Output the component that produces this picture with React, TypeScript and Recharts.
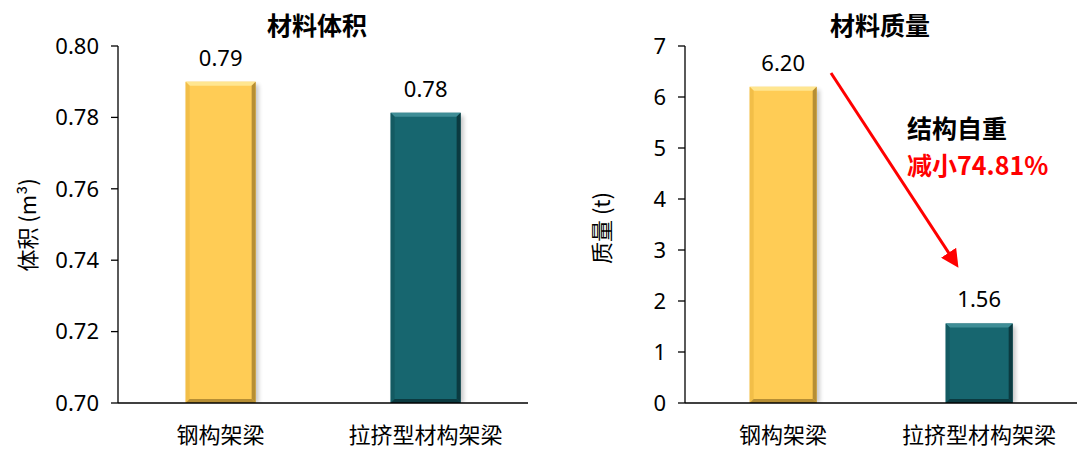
import React from 'react';
import { BarChart, Bar, XAxis, YAxis, Cell, LabelList } from 'recharts';

const categories = ['钢构架梁', '拉挤型材构架梁'];
const volumeValues = [0.79, 0.7813];
const massValues = [6.2, 1.56];
const volumeTicks = [0.7, 0.72, 0.74, 0.76, 0.78, 0.8];
const massTicks = [0, 1, 2, 3, 4, 5, 6, 7];

const volumeData = categories.map((name, i) => ({ name, value: volumeValues[i] }));
const massData = categories.map((name, i) => ({ name, value: massValues[i] }));

const PALETTE = [
  { fill: '#FFCC55', light: '#FFE690', side: '#F2BE48', dark: '#B68E34' },
  { fill: '#17666F', light: '#3F8D96', side: '#135A62', dark: '#0B3A40' },
];

const FONT = "'Noto Sans', 'Noto Sans CJK SC', sans-serif";
const CJK = "'Noto Sans CJK SC', 'Noto Sans', sans-serif";

const BevelBar = (props: any) => {
  const { x, y, width: w, height: h, index } = props;
  if (!w || !h) return null;
  const c = PALETTE[index % PALETTE.length];
  const b = 4;
  return (
    <g>
      <rect x={x + 3} y={y + 3} width={w} height={h - 3} fill="#000" opacity={0.22} filter="url(#barShadow)" />
      <rect x={x} y={y} width={w} height={h} fill={c.fill} />
      <polygon points={`${x},${y} ${x + w},${y} ${x + w - b},${y + b} ${x + b},${y + b}`} fill={c.light} />
      <polygon points={`${x},${y} ${x + b},${y + b} ${x + b},${y + h - b} ${x},${y + h}`} fill={c.side} />
      <polygon points={`${x + w},${y} ${x + w},${y + h} ${x + w - b},${y + h - b} ${x + w - b},${y + b}`} fill={c.dark} />
      <polygon points={`${x},${y + h} ${x + w},${y + h} ${x + w - b},${y + h - b} ${x + b},${y + h - b}`} fill={c.dark} />
    </g>
  );
};

const tickStyle = { fontSize: 22, fill: '#000', fontFamily: FONT };
const xTickStyle = { fontSize: 22, fill: '#000', fontFamily: CJK };

function Panel({ data, domain, ticks, left, yWidth, right }: any) {
  return (
    <div style={{ position: 'absolute', left, top: 0 }}>
      <BarChart
        width={540}
        height={462}
        data={data}
        margin={{ top: 46, right, bottom: 0, left: 0 }}
        barCategoryGap="33%"
      >
        <XAxis
          dataKey="name"
          tickLine={false}
          axisLine={{ stroke: '#000', strokeWidth: 1.3 }}
          tick={xTickStyle}
          tickSize={0}
          tickMargin={24}
          height={59}
          interval={0}
        />
        <YAxis
          type="number"
          domain={domain}
          ticks={ticks}
          allowDataOverflow
          width={yWidth}
          tick={tickStyle}
          tickSize={7}
          tickMargin={12}
          tickLine={{ stroke: '#000', strokeWidth: 1.3 }}
          axisLine={{ stroke: '#000', strokeWidth: 1.3 }}
          tickFormatter={(v: number) => (domain[1] < 1 ? v.toFixed(2) : String(v))}
        />
        <Bar dataKey="value" isAnimationActive={false} shape={<BevelBar />}>
          {data.map((_: any, i: number) => (
            <Cell key={i} fill={PALETTE[i].fill} />
          ))}
          <LabelList
            dataKey="value"
            position="top"
            offset={16}
            formatter={(v: number) => v.toFixed(2)}
            style={{ fontSize: 22, fill: '#000', fontFamily: FONT }}
          />
        </Bar>
      </BarChart>
    </div>
  );
}

export default function App() {
  return (
    <div style={{ position: 'absolute', left: 0, top: 0, width: 1080, height: 462, background: '#fff', overflow: 'hidden' }}>
      <Panel data={volumeData} domain={[0.7, 0.8]} ticks={volumeTicks} left={0} yWidth={118} right={12} />
      <Panel data={massData} domain={[0, 7]} ticks={massTicks} left={540} yWidth={145} right={3} />
      <svg width={1080} height={462} style={{ position: 'absolute', left: 0, top: 0, pointerEvents: 'none' }}>
        <defs>
          <filter id="barShadow" x="-20%" y="-20%" width="140%" height="140%">
            <feGaussianBlur stdDeviation="2" />
          </filter>
          <marker id="arrowHead" markerWidth="6" markerHeight="6" refX="4.5" refY="3" orient="auto" markerUnits="strokeWidth">
            <path d="M0,0 L6,3 L0,6 Z" fill="#FF0000" />
          </marker>
        </defs>
        <text x={317} y={24} textAnchor="middle" dominantBaseline="central" fontSize={25} fontWeight="bold" fontFamily={CJK} fill="#000">材料体积</text>
        <text x={880} y={24} textAnchor="middle" dominantBaseline="central" fontSize={25} fontWeight="bold" fontFamily={CJK} fill="#000">材料质量</text>
        <text transform="translate(26,225) rotate(-90)" textAnchor="middle" dominantBaseline="central" fontSize={22} fontFamily={CJK} fill="#000">体积 (m³)</text>
        <text transform="translate(600,228) rotate(-90)" textAnchor="middle" dominantBaseline="central" fontSize={22} fontFamily={CJK} fill="#000">质量 (t)</text>
        <line x1={831} y1={73} x2={956} y2={264} stroke="#FF0000" strokeWidth={3} markerEnd="url(#arrowHead)" />
        <text x={907} y={127} dominantBaseline="central" fontSize={25} fontWeight="bold" fontFamily={CJK} fill="#000">结构自重</text>
        <text x={907} y={164} dominantBaseline="central" fontSize={25} fontWeight="bold" fontFamily={CJK} fill="#FF0000">减小74.81%</text>
      </svg>
    </div>
  );
}
